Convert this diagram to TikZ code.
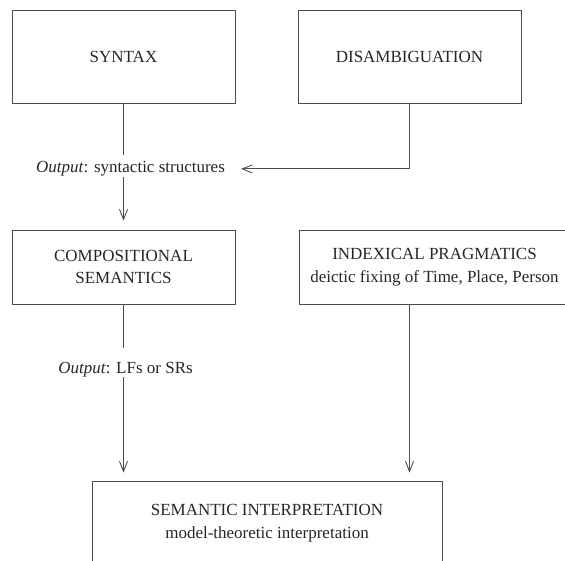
\documentclass[tikz,border=0pt]{standalone}
\usepackage{fontspec}
\setmainfont{Liberation Serif}
\usetikzlibrary{arrows.meta,calc}
\tikzset{
  boxnode/.style={draw=black!70, line width=0.9pt, align=center, inner sep=0pt,
    text=black!85, font=\fontsize{17}{22.5}\selectfont},
  lblnode/.style={inner sep=0pt, text=black!85, font=\fontsize{17}{22}\selectfont},
  ln/.style={draw=black!70, line width=0.9pt},
  arr/.style={ln, -{Straight Barb[length=10pt,width=8pt,line width=0.9pt]}}
}
\begin{document}
\begin{tikzpicture}[x=1pt,y=-1pt]
\useasboundingbox (0,0) rectangle (565,561);
\clip (0,0) rectangle (565,561);
\node[boxnode, minimum width=223pt, minimum height=93pt] (syn) at (123.5,56.5) {SYNTAX};
\node[boxnode, minimum width=223pt, minimum height=93pt] (dis) at (409.5,56.5) {DISAMBIGUATION};
\node[boxnode, minimum width=223pt, minimum height=74pt] (comp) at (123.5,267) {COMPOSITIONAL\\SEMANTICS};
\node[boxnode, minimum width=271pt, minimum height=74pt] (idx) at (434.5,267) {INDEXICAL PRAGMATICS\\deictic fixing of Time, Place, Person};
\node[boxnode, minimum width=350pt, minimum height=84pt] (sem) at (267,523) {SEMANTIC INTERPRETATION\\model-theoretic interpretation};
\node[lblnode, anchor=base] (o1) at (130.5,172.7) {\textit{Output}: syntactic structures};
\node[lblnode, anchor=base] (o2) at (125.5,373.3) {\textit{Output}: LFs or SRs};
\draw[ln, shorten >=6pt] (syn.south) -- (syn.south |- o1.north);
\draw[arr, shorten >=9pt] (syn.south |- o1.south) -- (comp.north);
\draw[arr, shorten >=16pt] (dis.south) |- (o1.east);
\draw[ln, shorten >=13.5pt] (comp.south) -- (comp.south |- o2.north);
\draw[arr, shorten >=8pt] (comp.south |- o2.south) -- (sem.north -| comp.south);
\draw[arr, shorten >=8pt] (idx.south -| dis.south) -- (sem.north -| dis.south);
\end{tikzpicture}
\end{document}
